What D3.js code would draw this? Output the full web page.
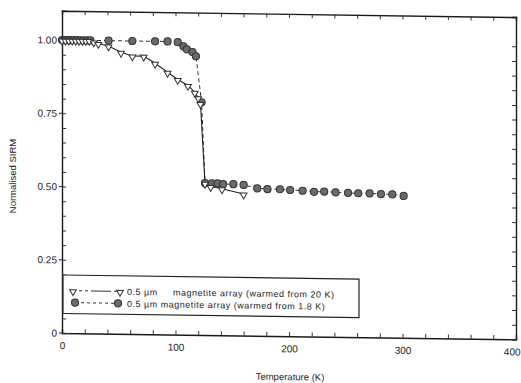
<!DOCTYPE html>
<html>
<head>
<meta charset="utf-8">
<script src="https://d3js.org/d3.v7.min.js"></script>
<style>
  body { margin: 0; background: #fff; }
  text { font-family: "Liberation Sans", Arial, sans-serif; fill: #222; }
</style>
</head>
<body>
<svg id="chart" width="521" height="383"></svg>
<script>
// warmed from 20 K (triangles)
var temps20 = [0, 3, 6, 9, 12, 15, 18, 21, 24, 28, 32, 41, 52, 62, 72, 82, 93, 102, 111, 117, 120, 122, 126, 131, 141, 160];
var sirm20 = [1, 1, 1, 1, 1, 1, 1, 1, 1, 0.995, 0.99, 0.982, 0.961, 0.949, 0.949, 0.925, 0.895, 0.871, 0.851, 0.828, 0.81, 0.79, 0.518, 0.507, 0.50, 0.483];

// warmed from 1.8 K (circles)
var temps18 = [0, 2, 4, 6, 8, 10, 13, 16, 19, 22, 25, 41, 62, 82, 93, 102, 107, 110, 115, 118, 123, 126, 132, 137, 142, 151, 160, 172, 181, 192, 201, 212, 222, 231, 241, 252, 261, 271, 281, 291, 301];
var sirm18 = [1, 1, 1, 1, 1, 1, 1, 1, 1, 1, 1, 1.0, 1.0, 1.0, 1.0, 0.998, 0.984, 0.974, 0.965, 0.951, 0.794, 0.518, 0.518, 0.518, 0.516, 0.516, 0.514, 0.503, 0.501, 0.501, 0.499, 0.497, 0.494, 0.495, 0.493, 0.492, 0.491, 0.491, 0.489, 0.489, 0.484];

var xTicks = d3.range(0, 401, 20);
var yTicks = d3.range(0, 21).map(function (i) { return i * 0.05; });
var yLabels = {0: "0", 0.25: "0.25", 0.5: "0.50", 0.75: "0.75", 1: "1.00"};

var legendNames = ["0.5 \u00b5m", "magnetite array (warmed from 20 K)", "0.5 \u00b5m magnetite array (warmed from 1.8 K)"];

var svg = d3.select("#chart");
var margin = {left: 62, top: 10.7},
    width = 454,
    height = 322.3;

// the scanned figure is a bit tilted, so skew the whole plot a little
var g = svg.append("g")
    .attr("transform", "translate(" + margin.left + "," + margin.top + ") skewY(0.8)");

var x = d3.scaleLinear().domain([0, 400]).range([0, width]);
var y = d3.scaleLinear().domain([0, 1.1]).range([height, 0]);

function isMajorY(d) { return Math.abs(d * 4 - Math.round(d * 4)) < 1e-6; }

// axes with inward ticks
var xAxisG = g.append("g")
    .attr("class", "axis")
    .attr("transform", "translate(0," + height + ")")
    .call(d3.axisBottom(x).tickValues(xTicks).tickSize(-4).tickPadding(9)
        .tickFormat(function (d) { return d % 100 === 0 ? d : ""; }));

// last label is cut by the page edge in the scan, keep it inside
xAxisG.selectAll(".tick text")
    .filter(function (d) { return d === 400; })
    .attr("text-anchor", "end")
    .attr("dx", 4);

g.append("g")
    .attr("class", "axis")
    .call(d3.axisTop(x).tickValues(xTicks).tickSize(-4).tickFormat(""));

g.append("g")
    .attr("class", "axis")
    .call(d3.axisLeft(y).tickValues(yTicks).tickSize(-4).tickPadding(5)
        .tickFormat(function (d) {
            var k = Math.round(d * 100) / 100;
            return isMajorY(d) ? yLabels[k] : "";
        }));

g.append("g")
    .attr("class", "axis")
    .attr("transform", "translate(" + width + ",0)")
    .call(d3.axisRight(y).tickValues(yTicks).tickSize(-4).tickFormat(""));

// little outward ticks at the labelled values
g.selectAll(".outTick")
    .data(yTicks.filter(isMajorY))
    .enter()
    .append("line")
    .attr("x1", -3).attr("x2", 0)
    .attr("y1", function (d) { return y(d); })
    .attr("y2", function (d) { return y(d); })
    .attr("stroke", "#222");

g.selectAll(".axis path").attr("stroke", "#1a1a1a").attr("stroke-width", 1.4);
g.selectAll(".axis line").attr("stroke", "#333").attr("stroke-width", 1);
g.selectAll(".axis text").attr("font-size", 10).attr("fill", "#222");

var data20 = temps20.map(function (t, i) { return [t, sirm20[i]]; });
var data18 = temps18.map(function (t, i) { return [t, sirm18[i]]; });

var line = d3.line()
    .x(function (d) { return x(d[0]); })
    .y(function (d) { return y(d[1]); });

g.append("path")
    .datum(data18)
    .attr("d", line)
    .attr("fill", "none")
    .attr("stroke", "#333")
    .attr("stroke-width", 1)
    .attr("stroke-dasharray", "4,3");

g.append("path")
    .datum(data20)
    .attr("d", line)
    .attr("fill", "none")
    .attr("stroke", "#222")
    .attr("stroke-width", 1.1);

var tri = d3.symbol().type(d3.symbolTriangle).size(20);

g.selectAll(".circ")
    .data(data18)
    .enter()
    .append("circle")
    .attr("cx", function (d) { return x(d[0]); })
    .attr("cy", function (d) { return y(d[1]); })
    .attr("r", 3.6)
    .attr("fill", "#6a6a6a")
    .attr("stroke", "#333")
    .attr("stroke-width", 1);

g.selectAll(".tri")
    .data(data20)
    .enter()
    .append("path")
    .attr("d", tri)
    .attr("transform", function (d) {
        return "translate(" + x(d[0]) + "," + (y(d[1]) + 1) + ") rotate(180)";
    })
    .attr("fill", "#fff")
    .attr("stroke", "#333")
    .attr("stroke-width", 1);

// legend
var lg = g.append("g").attr("transform", "translate(1,264.3)");
lg.append("rect")
    .attr("width", 296).attr("height", 38.5)
    .attr("fill", "#fff").attr("stroke", "#222").attr("stroke-width", 1.2);

lg.append("line")
    .attr("x1", 10).attr("x2", 57).attr("y1", 15.5).attr("y2", 15.5)
    .attr("stroke", "#333").attr("stroke-dasharray", "3,3,3,3,3,3,20");
lg.selectAll(".ltri")
    .data([10, 57])
    .enter()
    .append("path")
    .attr("d", tri)
    .attr("transform", function (d) { return "translate(" + d + ",16.5) rotate(180)"; })
    .attr("fill", "#fff").attr("stroke", "#333");

lg.append("line")
    .attr("x1", 12).attr("x2", 55).attr("y1", 27.5).attr("y2", 27.5)
    .attr("stroke", "#333").attr("stroke-dasharray", "3,3");
lg.selectAll(".lcirc")
    .data([12, 55])
    .enter()
    .append("circle")
    .attr("cx", function (d) { return d; }).attr("cy", 27.5).attr("r", 3.6)
    .attr("fill", "#6a6a6a").attr("stroke", "#333");

lg.append("text").attr("x", 64).attr("y", 19).attr("font-size", 9).attr("letter-spacing", 0.5).text(legendNames[0]);
lg.append("text").attr("x", 110).attr("y", 19).attr("font-size", 9).attr("letter-spacing", 0.5).text(legendNames[1]);
lg.append("text").attr("x", 64).attr("y", 31).attr("font-size", 9).attr("letter-spacing", 0.5).text(legendNames[2]);

// axis titles
g.append("text")
    .attr("x", x(200) + 1)
    .attr("y", height + 44)
    .attr("text-anchor", "middle")
    .attr("font-size", 9.5)
    .text("Temperature (K)");

svg.append("text")
    .attr("transform", "translate(16,176) rotate(-90)")
    .attr("text-anchor", "middle")
    .attr("font-size", 9.5)
    .text("Normalised SIRM");
</script>
</body>
</html>
